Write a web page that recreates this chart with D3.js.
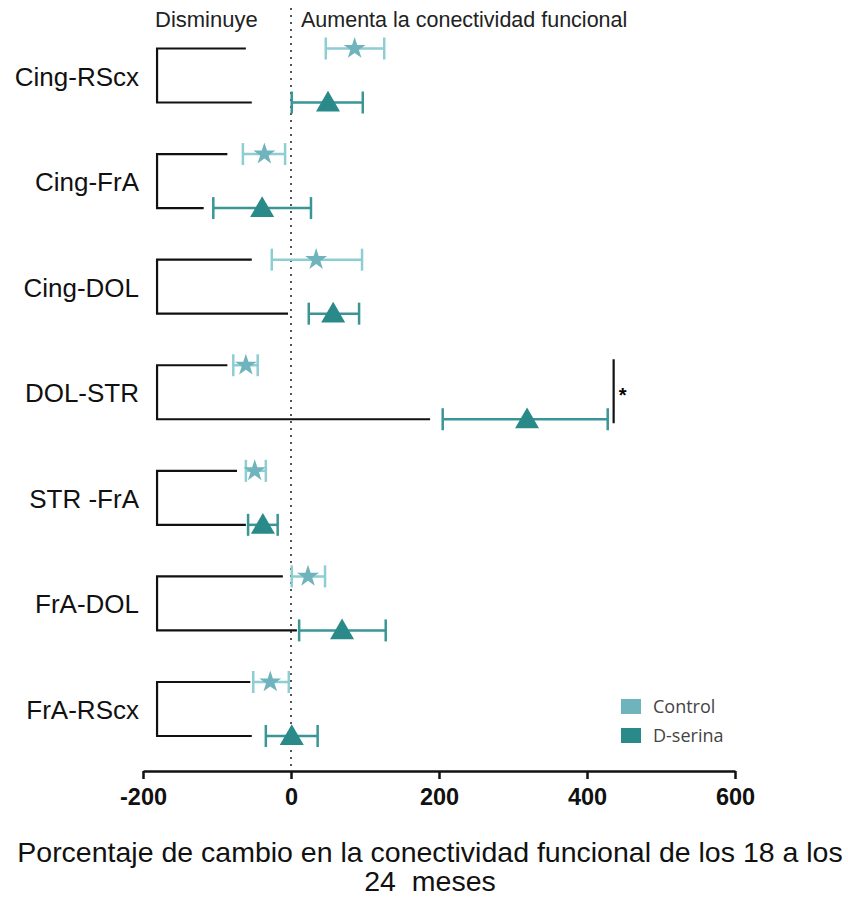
<!DOCTYPE html>
<html>
<head>
<meta charset="utf-8">
<script src="https://cdn.jsdelivr.net/npm/d3@7"></script>
<style>
  body { margin: 0; background: #fff; }
  svg { display: block; }
</style>
</head>
<body>
<svg width="848" height="901"></svg>
<script>
// comparaciones (de arriba a abajo)
const pairs = ["Cing-RScx", "Cing-FrA", "Cing-DOL", "DOL-STR", "STR -FrA", "FrA-DOL", "FrA-RScx"];

// Control: media y extremos de la barra de error
const controlMean = [86, -36, 34, -61, -49, 23, -28];
const controlLow  = [47, -65, -26, -78, -61, 1, -51];
const controlHigh = [126, -8, 96, -45, -34, 46, -3];

// D-serina
const dserMean = [50, -39, 57, 319, -38, 69, 1];
const dserLow  = [1, -105, 24, 205, -58, 11, -34];
const dserHigh = [97, 27, 92, 428, -18, 128, 36];

// extremos de las ramas del corchete (arriba = control, abajo = D-serina)
const bracketLeft = -181;
const bracketTop = [-61, -86, -53, -86, -73, -11, -55];
const bracketBottom = [-53, -118, -4, 188, -61, 8, -53];

const xTicks = [-200, 0, 200, 400, 600];
const sigPair = "DOL-STR";
const sigEdge = 436;

const colControl = "#6fb3bc";
const colControlBar = "#8ecdd2";
const colDser = "#2a8a8a";
const colDserBar = "#3a9596";

const svg = d3.select("svg");

const x = d3.scaleLinear()
    .domain([-200, 600])
    .range([143, 735]);

const y = d3.scalePoint()
    .domain(pairs)
    .range([75.5, 709]);

const rowOff = 27;
const axisY = 771;

// línea del cero
svg.append("line")
    .attr("x1", x(0)).attr("x2", x(0))
    .attr("y1", 8).attr("y2", axisY)
    .attr("stroke", "#555")
    .attr("stroke-width", 2)
    .attr("stroke-dasharray", "2,5");

svg.append("text")
    .attr("x", 155).attr("y", 27)
    .text("Disminuye")
    .style("font-family", "Liberation Sans, Arial, sans-serif")
    .style("font-size", "22px")
    .style("fill", "#222");

svg.append("text")
    .attr("x", 301).attr("y", 27)
    .text("Aumenta la conectividad funcional")
    .style("font-family", "Liberation Sans, Arial, sans-serif")
    .style("font-size", "21.5px")
    .style("fill", "#222");

// etiquetas de pares
svg.append("g").selectAll("text")
    .data(pairs)
    .enter()
    .append("text")
    .attr("x", 139)
    .attr("y", d => y(d) + 10)
    .attr("text-anchor", "end")
    .text(d => d)
    .style("font-family", "Liberation Sans, Arial, sans-serif")
    .style("font-size", "26px")
    .style("fill", "#111");

// corchetes
const brackets = svg.append("g")
    .attr("fill", "none")
    .attr("stroke", "#111")
    .attr("stroke-width", 2.2);

pairs.forEach((p, i) => {
  const yt = y(p) - rowOff, yb = y(p) + rowOff;
  brackets.append("path")
      .attr("d", `M${x(bracketTop[i])},${yt}H${x(bracketLeft)}V${yb}H${x(bracketBottom[i])}`);
});

// barras de error y marcadores
function drawSeries(mean, low, high, off, barColor, fill, symbol, size, dy) {
  const g = svg.append("g");
  pairs.forEach((p, i) => {
    const yy = y(p) + off;
    g.append("line")
        .attr("x1", x(low[i])).attr("x2", x(high[i]))
        .attr("y1", yy).attr("y2", yy)
        .attr("stroke", barColor).attr("stroke-width", 2.5);
    [low[i], high[i]].forEach(v => {
      g.append("line")
          .attr("x1", x(v)).attr("x2", x(v))
          .attr("y1", yy - 11).attr("y2", yy + 11)
          .attr("stroke", barColor).attr("stroke-width", 2.5);
    });
    g.append("path")
        .attr("d", d3.symbol().type(symbol).size(size)())
        .attr("transform", `translate(${x(mean[i])},${yy + dy})`)
        .attr("fill", fill);
  });
}

drawSeries(controlMean, controlLow, controlHigh, -rowOff, colControlBar, colControl, d3.symbolStar, 150, 0);
drawSeries(dserMean, dserLow, dserHigh, rowOff, colDserBar, colDser, d3.symbolTriangle, 250, 2);

// significancia
svg.append("line")
    .attr("x1", x(sigEdge)).attr("x2", x(sigEdge))
    .attr("y1", y(sigPair) - 33).attr("y2", y(sigPair) + 31)
    .attr("stroke", "#111").attr("stroke-width", 2.2);

svg.append("text")
    .attr("x", x(sigEdge) + 5)
    .attr("y", y(sigPair) + 10)
    .text("*")
    .style("font-family", "Liberation Sans, Arial, sans-serif")
    .style("font-size", "20px")
    .style("font-weight", "bold");

// eje x
const axis = svg.append("g")
    .attr("transform", `translate(0,${axisY})`)
    .call(d3.axisBottom(x)
      .tickValues(xTicks)
      .tickFormat(d => String(d))
      .tickSize(8).tickSizeOuter(0).tickPadding(9));

axis.select(".domain").attr("stroke", "#111").attr("stroke-width", 2.5);
axis.selectAll(".tick line").attr("stroke", "#111").attr("stroke-width", 2.5);
axis.selectAll(".tick text")
    .style("font-family", "Liberation Sans, Arial, sans-serif")
    .style("font-weight", "bold")
    .style("font-size", "23.5px")
    .style("fill", "#111");

// título del eje
const title = svg.append("text")
    .attr("text-anchor", "middle")
    .style("font-family", "Liberation Sans, Arial, sans-serif")
    .style("font-size", "28.5px")
    .style("fill", "#111");

title.append("tspan").attr("x", 430).attr("y", 862)
    .text("Porcentaje de cambio en la conectividad funcional de los 18 a los");
title.append("tspan").attr("x", 430).attr("y", 891)
    .text("24  meses")
    .style("white-space", "pre");

// leyenda
const legend = svg.append("g")
    .attr("transform", "translate(621,699)");

[["Control", colControl], ["D-serina", colDser]].forEach(([name, c], i) => {
  legend.append("rect")
      .attr("x", 0).attr("y", i * 29)
      .attr("width", 20).attr("height", 15)
      .attr("fill", c);
  legend.append("text")
      .attr("x", 32).attr("y", i * 29 + 14)
      .text(name)
      .style("font-family", "Open Sans, sans-serif")
      .style("font-size", "18px")
      .style("fill", "#444");
});
</script>
</body>
</html>
